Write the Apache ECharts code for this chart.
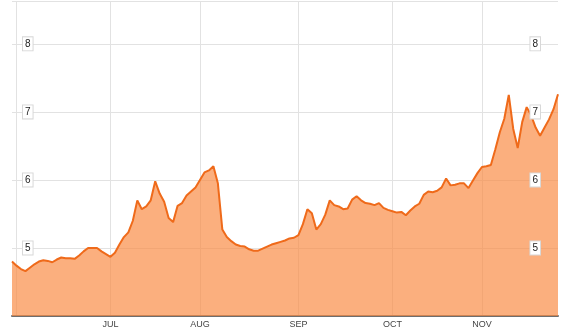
<!DOCTYPE html>
<html>
<head>
<meta charset="utf-8">
<script src="https://cdn.jsdelivr.net/npm/echarts@6/dist/echarts.min.js"></script>
<style>
html,body{margin:0;padding:0;background:#fff;}
#chart{width:580px;height:333px;}
</style>
</head>
<body>
<div id="chart"></div>
<script>
// daily values (trading days)
const values = [
  4.80, 4.74, 4.69, 4.66, 4.71, 4.76, 4.80, 4.82, 4.81, 4.79,
  4.83, 4.86, 4.85, 4.85, 4.84, 4.89, 4.95, 5.00, 5.00, 5.00,
  4.95, 4.91, 4.87, 4.93, 5.05, 5.16, 5.23, 5.40, 5.70, 5.57,
  5.61, 5.70, 5.98, 5.80, 5.68, 5.44, 5.38, 5.62, 5.66, 5.77,
  5.83, 5.89, 6.00, 6.11, 6.14, 6.20, 5.95, 5.27, 5.16, 5.10,
  5.05, 5.03, 5.02, 4.98, 4.96, 4.96, 4.99, 5.02, 5.05, 5.07,
  5.09, 5.11, 5.14, 5.15, 5.19, 5.35, 5.57, 5.51, 5.27, 5.35,
  5.49, 5.70, 5.63, 5.61, 5.57, 5.58, 5.71, 5.76, 5.70, 5.66,
  5.65, 5.63, 5.66, 5.59, 5.56, 5.54, 5.52, 5.53, 5.48, 5.55,
  5.61, 5.65, 5.78, 5.83, 5.82, 5.84, 5.89, 6.02, 5.92, 5.93,
  5.95, 5.95, 5.88, 5.99, 6.10, 6.19, 6.20, 6.22, 6.45, 6.70,
  6.90, 7.25, 6.75, 6.47, 6.85, 7.07, 6.95, 6.77, 6.65, 6.77,
  6.89, 7.04, 7.26
];
// category index of each day
const categories = values.map((_, i) => String(i));
// month boundaries (index of first trading day) and their tick labels
const monthStartIndex = [1, 22, 42, 64, 85, 105];
const monthLabels = ['', 'JUL', 'AUG', 'SEP', 'OCT', 'NOV'];
const yTicks = [5, 6, 7, 8];

const chart = echarts.init(document.getElementById('chart'), null, {renderer: 'canvas'});
const labelBox = {
  inside: true,
  color: '#222',
  fontSize: 10,
  fontFamily: 'Liberation Sans, Arial, sans-serif',
  backgroundColor: '#fff',
  borderColor: '#d8d8d8',
  borderWidth: 1,
  padding: [2, 2, 1, 2],
  showMinLabel: false,
  showMaxLabel: false,
  formatter: v => (yTicks.indexOf(v) >= 0 ? String(v) : '')
};
chart.setOption({
  animation: false,
  grid: {left: 12, right: 22, top: 1, bottom: 17},
  xAxis: {
    type: 'category',
    data: categories,
    boundaryGap: false,
    axisLine: {lineStyle: {color: '#6e6e6e', width: 2}},
    axisTick: {show: false},
    axisLabel: {
      interval: (i) => monthStartIndex.indexOf(i) >= 0,
      formatter: (v, i) => {
        const k = monthStartIndex.indexOf(i);
        return k >= 0 ? monthLabels[k] : '';
      },
      color: '#444',
      fontSize: 9,
      margin: 4,
      fontFamily: 'Liberation Sans, Arial, sans-serif'
    },
    splitLine: {
      show: true,
      interval: (i) => monthStartIndex.indexOf(i) >= 0,
      lineStyle: {color: '#e2e2e2', width: 1}
    }
  },
  yAxis: [
    {
      type: 'value', min: 4, max: 8.63, interval: 1, position: 'left',
      axisLine: {show: false}, axisTick: {show: false},
      splitLine: {show: true, lineStyle: {color: '#e2e2e2', width: 1}},
      axisLabel: Object.assign({}, labelBox, {margin: 11})
    },
    {
      type: 'value', min: 4, max: 8.63, interval: 1, position: 'right',
      z: 10,
      axisLine: {show: false}, axisTick: {show: false},
      splitLine: {show: false},
      axisLabel: Object.assign({}, labelBox, {margin: 18})
    }
  ],
  series: [{
    type: 'line',
    data: values,
    symbol: 'none',
    smooth: false,
    lineStyle: {color: '#EF6A1A', width: 2},
    areaStyle: {color: '#FA8D47', opacity: 0.7}
  }]
});
</script>
</body>
</html>
